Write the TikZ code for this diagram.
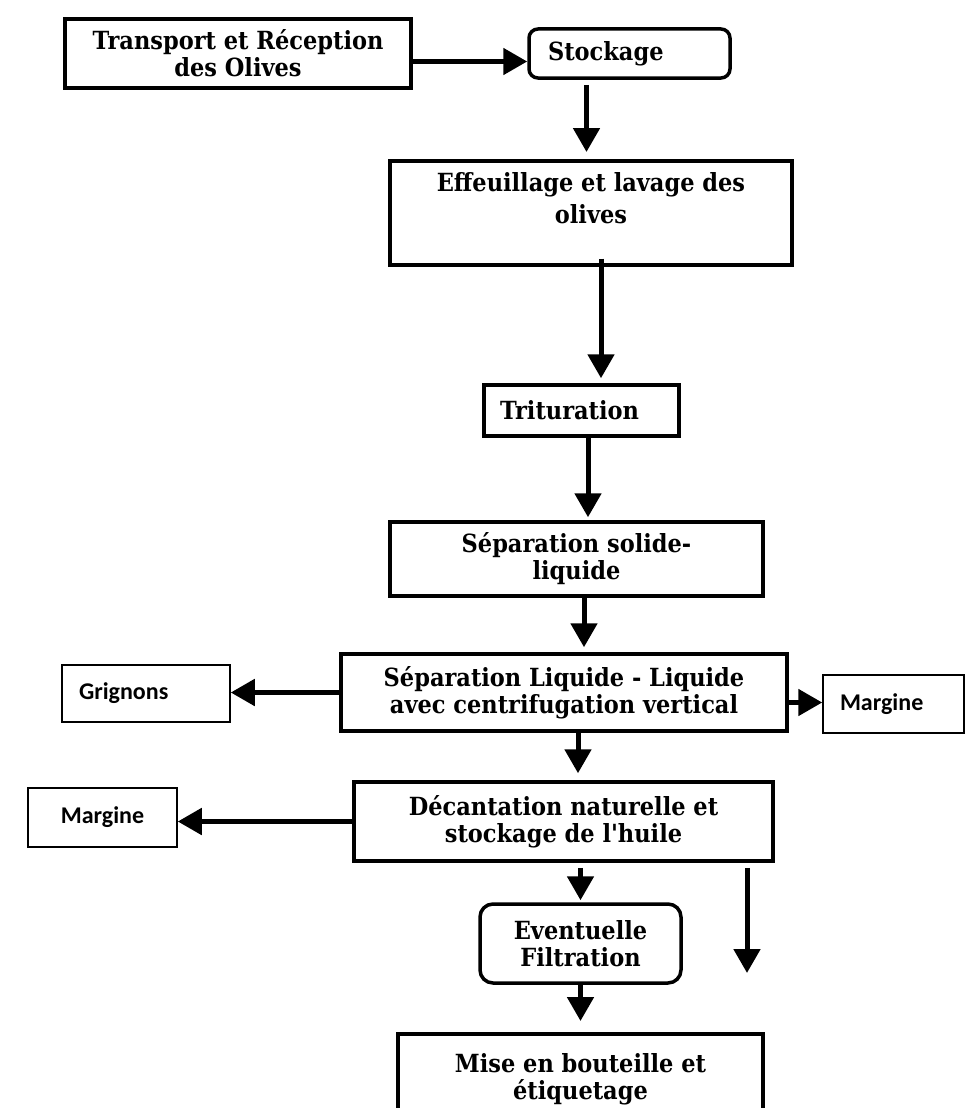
\documentclass[tikz,border=0pt]{standalone}
\usepackage{fontspec}
\usepackage{tikz}
\usetikzlibrary{arrows.meta}
\newfontfamily\stepfont[FakeStretch=0.9]{DejaVu Serif}
\newfontfamily\sidefont{Carlito}
\tikzset{%
  stepbox/.style = {
    shape=rectangle, draw, line width=3.5pt,
    align=center, inner sep=2pt,
    font=\stepfont\bfseries\fontsize{25}{27}\selectfont
  },
  roundbox/.style = {stepbox, rounded corners=9pt},
  outbox/.style = {
    shape=rectangle, draw, line width=1.5pt,
    align=left, inner xsep=17pt,
    font=\sidefont\bfseries\fontsize{24}{28}\selectfont
  },
  flow/.style = {draw, line width=5pt, -{Triangle[length=24pt,width=26pt]}}
}

\begin{document}
\begin{tikzpicture}[x=1pt,y=-1pt]
  \useasboundingbox (0,0) rectangle (966,1108);
  \clip (0,0) rectangle (966,1108);

  % main line
  \node[stepbox, minimum width=346pt, minimum height=69pt] (trans) at (238,53.5)
    {Transport et Réception\\des Olives};
  \node[roundbox, align=left, text width=163pt, inner xsep=19pt, minimum height=49pt] (stock) at (629.5,53.5)
    {Stockage};
  \node[stepbox, anchor=north, minimum width=402pt, inner ysep=0pt,
        font=\stepfont\bfseries\fontsize{25}{32}\selectfont,
        text height=63pt, text depth=41pt] (effeuil) at (591,159)
    {Effeuillage et lavage des\\olives};
  \node[stepbox, align=left, text width=163pt, inner xsep=16pt, minimum height=51pt] (tritur) at (581.5,410.5)
    {Trituration};
  \node[stepbox, minimum width=373pt, minimum height=74pt] (sepsl) at (576.5,559)
    {Séparation solide-\\liquide};
  \node[stepbox, minimum width=446pt, minimum height=77pt] (sepll) at (564,692.5)
    {Séparation Liquide - Liquide\\avec centrifugation vertical};
  \node[stepbox, minimum width=419pt, minimum height=79pt] (decant) at (563.5,821.5)
    {Décantation naturelle et\\stockage de l'huile};
  \node[roundbox, rounded corners=13pt, minimum width=201pt, minimum height=79pt] (filt) at (580.5,943.5)
    {Eventuelle\\Filtration};
  \node[stepbox, anchor=north, minimum width=365pt, inner ysep=0pt,
        text height=66pt, text depth=72pt] (mise) at (580.5,1032)
    {Mise en bouteille et\\étiquetage};

  % by-products
  \node[outbox, text width=134pt, minimum height=57pt] (grig) at (146,693.5) {Grignons};
  \node[outbox, text width=107pt, minimum height=58pt] (margR) at (893.5,704) {Margine};
  \node[outbox, align=center, text width=115pt, minimum height=59pt] (margL) at (102.5,817.5) {Margine};
  \coordinate (out) at (747,973);

  % connectors
  \draw[flow] ([yshift=-8pt]trans.east) -- ([yshift=-8pt]trans.east -| stock.west);
  \draw[flow, shorten <=5pt, shorten >=7pt] ([xshift=-43pt]stock.south) -- ([xshift=-43pt]stock.south |- effeuil.north);
  \draw[flow, shorten <=-8pt, shorten >=5pt] ([xshift=10pt]effeuil.south) -- ([xshift=10pt]effeuil.south |- tritur.north);
  \draw[flow, shorten >=3pt] ([xshift=6.5pt]tritur.south) -- ([xshift=6.5pt]tritur.south |- sepsl.north);
  \draw[flow, shorten >=5pt] ([xshift=7.5pt]sepsl.south) -- ([xshift=7.5pt]sepsl.south |- sepll.north);
  \draw[flow] (sepll.west) -- (sepll.west -| grig.east);
  \draw[flow] ([yshift=-10pt]sepll.east) -- ([yshift=-10pt]sepll.east -| margR.west);
  \draw[flow, shorten >=7pt] ([xshift=14pt]sepll.south) -- ([xshift=14pt]sepll.south |- decant.north);
  \draw[flow] (decant.west) -- (decant.west -| margL.east);
  \draw[flow, shorten <=5pt, shorten >=2pt] (decant.south -| filt.north) -- (filt.north);
  \draw[flow, shorten <=5pt] (decant.south -| out) -- (out);
  \draw[flow, shorten >=11pt] (filt.south) -- (filt.south |- mise.north);
\end{tikzpicture}
\end{document}
